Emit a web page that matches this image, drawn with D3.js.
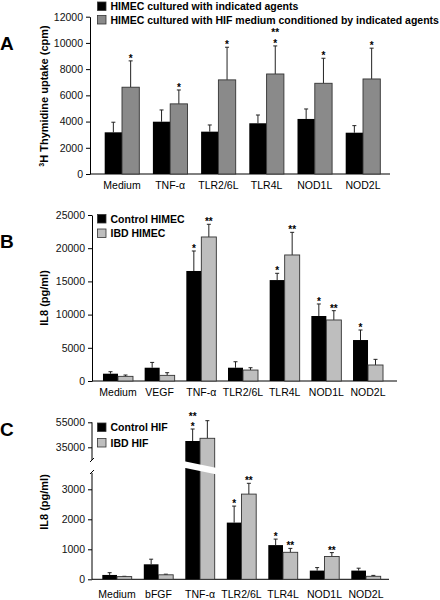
<!DOCTYPE html>
<html><head><meta charset="utf-8">
<script src="https://cdn.jsdelivr.net/npm/d3@7"></script>
<style>
body{margin:0;background:#fff;}
svg{display:block;font-family:"Liberation Sans",Arial,sans-serif;}
</style></head>
<body>
<svg id="c" width="440" height="600"></svg>
<script>
// ---------- Panel A data ----------
const catsA = ["Medium","TNF-α","TLR2/6L","TLR4L","NOD1L","NOD2L"];
const aBlack = [3180,3990,3230,3870,4200,3150];
const aBlackErr = [770,895,510,630,760,540];
const aGray = [6620,5350,7180,7630,6920,7250];
const aGrayErr = [2010,1060,2490,2140,1910,2350];
const aGraySig = [["*"],["*"],["*"],["**","*"],["*"],["*"]];
const aTicks = [0,2000,4000,6000,8000,10000,12000];
const aLegend = ["HIMEC cultured with indicated agents","HIMEC cultured with HIF medium conditioned by indicated agents"];

// ---------- Panel B data ----------
const catsB = ["Medium","VEGF","TNF-α","TLR2/6L","TLR4L","NOD1L","NOD2L"];
const bCtrl = [1100,2000,16570,2000,15200,9790,6170];
const bCtrlErr = [300,800,3010,900,1020,1810,1510];
const bIbd = [700,850,21690,1650,18980,9190,2410];
const bIbdErr = [200,400,1910,350,3410,1400,850];
const bCtrlSig = [[],[],["*"],[],["*"],["*"],["*"]];
const bIbdSig = [[],[],["**"],[],["**"],["**"],[]];
const bTicks = [0,5000,10000,15000,20000,25000];
const bLegend = ["Control HIMEC","IBD HIMEC"];

// ---------- Panel C data ----------
const catsC = ["Medium","bFGF","TNF-α","TLR2/6L","TLR4L","NOD1L","NOD2L"];
const cCtrl = [145,500,40040,1890,1140,290,290];
const cCtrlErr = [75,170,9600,550,200,100,80];
const cIbd = [90,150,42200,2840,900,760,100];
const cIbdErr = [10,20,14100,360,130,130,30];
const cCtrlSig = [[],[],["**","*"],["*"],["*"],[],[]];
const cIbdSig = [[],[],[],["**"],["**"],["**"],[]];
const cTicksLow = [0,1000,2000,3000];
const cTicksHigh = [35000,55000];
const cLegend = ["Control HIF","IBD HIF"];

const svg = d3.select("#c");
const BLACK="#000", GRAYA="#8a8a8a", GRAYB="#bebebe";
const fmt = d3.format("d");

function panelLetter(t,y){
  svg.append("text").attr("x",0).attr("y",y).attr("font-size",19).attr("font-weight","bold").text(t);
}
function yTitle(t,x,y){
  svg.append("text").attr("transform",`translate(${x},${y}) rotate(-90)`)
    .attr("text-anchor","middle").attr("font-size",11).attr("font-weight","bold").html(t);
}
function legend(items,colors,x,y0,dy){
  items.forEach((t,i)=>{
    const y=y0+i*dy;
    svg.append("rect").attr("x",x).attr("y",y-8).attr("width",8.5).attr("height",8.5)
      .attr("fill",colors[i]).attr("stroke","#333").attr("stroke-width",0.8);
    svg.append("text").attr("x",x+13).attr("y",y).attr("font-size",10.5).attr("font-weight","bold").text(t);
  });
}
function styleAxis(g){
  g.selectAll("path,line").attr("stroke","#000").attr("stroke-width",1);
  g.selectAll("text").attr("font-size",10.5).attr("fill","#111").attr("font-family","Liberation Sans, Arial, sans-serif");
}
function drawBars(x,y,cats,vals,errs,sigs,off,w,fill){
  const g=svg.append("g");
  cats.forEach((c,i)=>{
    const cx=x(c)+x.bandwidth()/2;
    const x0=cx+off;
    const top=y(vals[i]), et=y(vals[i]+errs[i]);
    const base=y.base;
    g.append("line").attr("x1",x0+w/2).attr("x2",x0+w/2).attr("y1",top).attr("y2",et).attr("stroke","#222").attr("stroke-width",1);
    g.append("line").attr("x1",x0+w/2-2).attr("x2",x0+w/2+2).attr("y1",et).attr("y2",et).attr("stroke","#222").attr("stroke-width",1);
    g.append("rect").attr("x",x0).attr("y",top).attr("width",w).attr("height",base-top)
      .attr("fill",fill).attr("stroke","#333").attr("stroke-width",fill===BLACK?0:0.9);
    const s=sigs[i]||[];
    s.slice().reverse().forEach((line,k)=>{
      g.append("text").attr("x",x0+w/2).attr("y",et+1-k*10.5).attr("text-anchor","middle")
        .attr("font-size",10).attr("font-weight","bold").text(line);
    });
  });
}

// ================= Panel A =================
{
  const x=d3.scaleBand().domain(catsA).range([97.9,387.1]);
  const y=d3.scaleLinear().domain([0,12000]).range([174,16.7]); y.base=174;
  const ax=svg.append("g").attr("transform","translate(90,0)").call(d3.axisLeft(y).tickValues(aTicks).tickFormat(fmt).tickSize(4).tickPadding(3).tickSizeOuter(0));
  styleAxis(ax);
  svg.append("line").attr("x1",90).attr("x2",390).attr("y1",174).attr("y2",174).attr("stroke","#000");
  drawBars(x,y,catsA,aBlack,aBlackErr,catsA.map(()=>[]),-17.3,17.3,BLACK);
  drawBars(x,y,catsA,aGray,aGrayErr,aGraySig,0,17.3,GRAYA);
  catsA.forEach(c=>svg.append("text").attr("x",x(c)+x.bandwidth()/2).attr("y",189).attr("text-anchor","middle").attr("font-size",10.5).text(c));
  yTitle('<tspan font-size="7" dy="-4">3</tspan><tspan dy="4">H Thymidine uptake (cpm)</tspan>',48,96);
  legend(aLegend,[BLACK,GRAYA],97.5,10,13.5);
  panelLetter("A",50);
}
// ================= Panel B =================
{
  const x=d3.scaleBand().domain(catsB).range([97.15,388.85]);
  const y=d3.scaleLinear().domain([0,25000]).range([381,215]); y.base=381;
  const ax=svg.append("g").attr("transform","translate(92,0)").call(d3.axisLeft(y).tickValues(bTicks).tickFormat(fmt).tickSize(4).tickPadding(3).tickSizeOuter(0));
  styleAxis(ax);
  svg.append("line").attr("x1",92).attr("x2",397).attr("y1",381).attr("y2",381).attr("stroke","#000");
  drawBars(x,y,catsB,bCtrl,bCtrlErr,bCtrlSig,-15,15,BLACK);
  drawBars(x,y,catsB,bIbd,bIbdErr,bIbdSig,0,15,GRAYB);
  catsB.forEach(c=>svg.append("text").attr("x",x(c)+x.bandwidth()/2).attr("y",395.5).attr("text-anchor","middle").attr("font-size",10.5).text(c));
  yTitle("IL8 (pg/ml)",48,298);
  legend(bLegend,[BLACK,GRAYB],97.5,222.5,14.5);
  panelLetter("B",248);
}
// ================= Panel C =================
{
  const x=d3.scaleBand().domain(catsC).range([96.25,386.75]);
  const yL=d3.scaleLinear().domain([0,3000]).range([579.3,489.3]); yL.base=579.3;
  const yH=d3.scaleLinear().domain([35000,55000]).range([447.3,422.3]);
  const y=v=> v>=20000? yH(v) : yL(v); y.base=579.3;
  const axL=svg.append("g").attr("transform","translate(92,0)").call(d3.axisLeft(yL).tickValues(cTicksLow).tickFormat(fmt).tickSize(4).tickPadding(3).tickSizeOuter(0));
  styleAxis(axL);
  axL.select("path").remove();
  const axH=svg.append("g").attr("transform","translate(92,0)").call(d3.axisLeft(yH).tickValues(cTicksHigh).tickFormat(fmt).tickSize(4).tickPadding(3).tickSizeOuter(0));
  styleAxis(axH);
  axH.select("path").remove();
  svg.append("line").attr("x1",92).attr("x2",92).attr("y1",yH(55000)).attr("y2",460).attr("stroke","#000");
  svg.append("line").attr("x1",92).attr("x2",92).attr("y1",473).attr("y2",579.3).attr("stroke","#000");
  svg.append("line").attr("x1",90).attr("x2",94).attr("y1",462).attr("y2",458).attr("stroke","#000");
  svg.append("line").attr("x1",90).attr("x2",94).attr("y1",474).attr("y2",470).attr("stroke","#000");
  svg.append("line").attr("x1",92).attr("x2",389).attr("y1",579.3).attr("y2",579.3).attr("stroke","#000");
  drawBars(x,y,catsC,cCtrl,cCtrlErr,cCtrlSig,-14.7,14.7,BLACK);
  drawBars(x,y,catsC,cIbd,cIbdErr,cIbdSig,0,14.7,GRAYB);
  const cx=x("TNF-α")+x.bandwidth()/2;
  svg.append("polygon").attr("points",[[cx-17,461],[cx+17,468],[cx+17,474.5],[cx-17,467.5]].map(p=>p.join(",")).join(" ")).attr("fill","#fff");
  catsC.forEach(c=>svg.append("text").attr("x",x(c)+x.bandwidth()/2).attr("y",598).attr("text-anchor","middle").attr("font-size",10.5).text(c));
  yTitle("IL8 (pg/ml)",48,502);
  legend(cLegend,[BLACK,GRAYB],97.5,431,15.5);
  panelLetter("C",436);
}
</script>
</body></html>
